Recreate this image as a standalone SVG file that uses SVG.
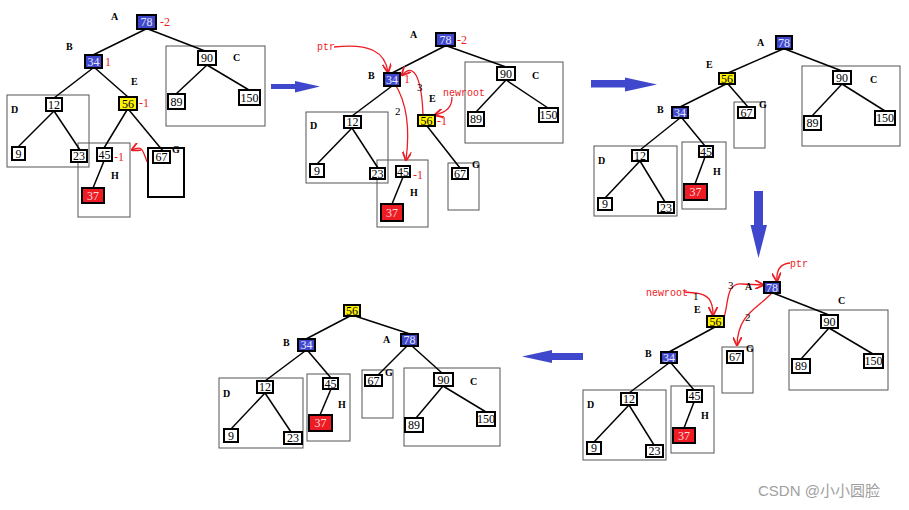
<svg xmlns="http://www.w3.org/2000/svg" width="909" height="510" viewBox="0 0 909 510">
<defs>
<style>
.n rect{fill:#fff;stroke:#000;stroke-width:2}
.n text{font-family:"Liberation Serif",serif;font-size:12px;text-anchor:middle;fill:#000}
.b rect{fill:#3F48CC}
.b text{fill:#e6e6ff}
.y rect{fill:#FFF200}
.r rect{fill:#ED1C24}
.r text{fill:#fdd}
.box{fill:none;stroke:#555;stroke-width:1}
.e line{stroke:#000;stroke-width:1.5}
.l{font-family:"Liberation Serif",serif;font-size:10px;font-weight:bold;fill:#000}
.rt{font-family:"Liberation Serif",serif;font-size:12px;fill:#ED1C24}
.rm{font-family:"Liberation Mono",monospace;font-size:10px;fill:#ED1C24}
.k{font-family:"Liberation Serif",serif;font-size:11px;fill:#000}
.ra{fill:none;stroke:#ED1C24;stroke-width:1.3;marker-end:url(#ah)}
.big{fill:#3F48CC}
</style>
<marker id="ah" viewBox="0 0 10 10" refX="9" refY="5" markerWidth="7" markerHeight="7" orient="auto-start-reverse">
<path d="M0,0 L10,5 L0,10" fill="none" stroke="#ED1C24" stroke-width="2"/>
</marker>
</defs>
<rect width="909" height="510" fill="#fff"/>

<!-- big arrows -->
<g id="arrows">
<path class="big" d="M271,84 L295,84 L295,81 L320,86.5 L295,92.5 L295,89 L271,89 Z"/>
<path class="big" d="M591,80 L625,80 L625,77.5 L657,84.5 L625,91.5 L625,87.5 L591,87.5 Z"/>
<path class="big" d="M754,191 L763,191 L763,225 L767,225 L758.5,258 L750.5,225 L754,225 Z"/>
<path class="big" d="M583,353 L552,353 L552,350 L522,356.5 L552,363 L552,360 L583,360 Z"/>
</g>

<!-- ===== Panel 1 ===== -->
<g id="p1-boxes">
<rect class="box" x="166" y="46" width="99" height="80"/>
<rect class="box" x="7" y="95" width="82" height="72"/>
<rect class="box" x="78" y="143" width="52" height="74"/>
<rect x="148" y="148" width="36" height="49" fill="none" stroke="#000" stroke-width="2"/>
</g>
<g id="p1-edges" class="e">
<line x1="146" y1="29" x2="93" y2="55"/>
<line x1="148" y1="29" x2="205" y2="51"/>
<line x1="93" y1="68" x2="54" y2="98"/>
<line x1="95" y1="68" x2="128" y2="97"/>
<line x1="54" y1="111" x2="18" y2="147"/>
<line x1="54" y1="111" x2="80" y2="150"/>
<line x1="127" y1="110" x2="104" y2="148"/>
<line x1="129" y1="110" x2="163" y2="151"/>
<line x1="104" y1="161" x2="93" y2="188"/>
<line x1="207" y1="65" x2="176" y2="94"/>
<line x1="207" y1="65" x2="249" y2="90"/>
<path class="ra" d="M147,162 C143,150 142,145 132,150"/>
</g>
<g id="p1-n78" class="n b"><rect x="137" y="15" width="19" height="14"/><text x="146.5" y="26">78</text></g>
<g id="p1-n34" class="n b"><rect x="85" y="55" width="17" height="13"/><text x="93.5" y="65.5">34</text></g>
<g id="p1-n90" class="n"><rect x="198" y="51" width="18" height="14"/><text x="207" y="62">90</text></g>
<g id="p1-n89" class="n"><rect x="168" y="94" width="17" height="15"/><text x="176.5" y="105.5">89</text></g>
<g id="p1-n150" class="n"><rect x="239" y="90" width="21" height="15"/><text x="249.5" y="101.5">150</text></g>
<g id="p1-n56" class="n y"><rect x="119" y="97" width="18" height="13"/><text x="128" y="107.5">56</text></g>
<g id="p1-n12" class="n"><rect x="46" y="98" width="16" height="13"/><text x="54" y="108.5">12</text></g>
<g id="p1-n9" class="n"><rect x="12" y="147" width="13" height="13"/><text x="18.5" y="157.5">9</text></g>
<g id="p1-n23" class="n"><rect x="71" y="150" width="16" height="12"/><text x="79" y="160">23</text></g>
<g id="p1-n45" class="n"><rect x="97" y="148" width="15" height="13"/><text x="104.5" y="158.5">45</text></g>
<g id="p1-n37" class="n r"><rect x="82" y="188" width="22" height="15"/><text x="93" y="199.5">37</text></g>
<g id="p1-n67" class="n"><rect x="153" y="151" width="17" height="12"/><text x="161.5" y="161">67</text></g>
<g id="p1-labels">
<text class="l" x="111" y="20">A</text>
<text class="l" x="66" y="50">B</text>
<text class="l" x="233" y="61">C</text>
<text class="l" x="131" y="85">E</text>
<text class="l" x="11" y="113">D</text>
<text class="l" x="111" y="179">H</text>
<text class="l" x="172" y="153">G</text>
<text class="rt" x="160" y="26">-2</text>
<text class="rt" x="105" y="66">1</text>
<text class="rt" x="139" y="107">-1</text>
<text class="rt" x="114" y="161">-1</text>
</g>

<!-- ===== Panel 2 ===== -->
<g id="p2-boxes">
<rect class="box" x="465" y="62" width="98" height="81"/>
<rect class="box" x="306" y="112" width="82" height="71"/>
<rect class="box" x="377" y="160" width="51" height="67"/>
<rect class="box" x="448" y="163" width="31" height="47"/>
</g>
<g id="p2-edges" class="e">
<line x1="445" y1="46" x2="392" y2="73"/>
<line x1="447" y1="46" x2="506" y2="67"/>
<line x1="392" y1="86" x2="352" y2="116"/>
<line x1="352" y1="128" x2="317" y2="164"/>
<line x1="352" y1="128" x2="378" y2="168"/>
<line x1="427" y1="126" x2="460" y2="168"/>
<line x1="403" y1="177" x2="392" y2="204"/>
<line x1="506" y1="80" x2="476" y2="112"/>
<line x1="506" y1="80" x2="548" y2="108"/>
<path class="ra" d="M334,47 C370,43 385,52 388,72"/>
<path class="ra" d="M423,115 C422,85 416,60 402,75"/>
<path class="ra" d="M395,84 C405,100 411,122 406,160"/>
<path class="ra" d="M452,97 C452,108 446,112 435,115"/>
</g>
<g id="p2-n78" class="n b"><rect x="436" y="33" width="19" height="13"/><text x="445.5" y="43.5">78</text></g>
<g id="p2-n34" class="n b"><rect x="384" y="73" width="16" height="13"/><text x="392" y="83.5">34</text></g>
<g id="p2-n90" class="n"><rect x="497" y="67" width="18" height="13"/><text x="506" y="77.5">90</text></g>
<g id="p2-n89" class="n"><rect x="468" y="112" width="16" height="14"/><text x="476" y="123">89</text></g>
<g id="p2-n150" class="n"><rect x="539" y="108" width="19" height="14"/><text x="548.5" y="119">150</text></g>
<g id="p2-n56" class="n y"><rect x="418" y="115" width="17" height="11"/><text x="426.5" y="124.5">56</text></g>
<g id="p2-n12" class="n"><rect x="344" y="116" width="17" height="12"/><text x="352.5" y="126">12</text></g>
<g id="p2-n9" class="n"><rect x="310" y="164" width="14" height="13"/><text x="317" y="174.5">9</text></g>
<g id="p2-n23" class="n"><rect x="370" y="168" width="15" height="11"/><text x="377.5" y="177.5">23</text></g>
<g id="p2-n45" class="n"><rect x="396" y="166" width="14" height="11"/><text x="403" y="175.5">45</text></g>
<g id="p2-n37" class="n r"><rect x="381" y="204" width="22" height="17"/><text x="392" y="216.5">37</text></g>
<g id="p2-n67" class="n"><rect x="452" y="168" width="16" height="11"/><text x="460" y="177.5">67</text></g>
<g id="p2-labels">
<text class="l" x="410" y="38">A</text>
<text class="l" x="368" y="79">B</text>
<text class="l" x="532" y="79">C</text>
<text class="l" x="429" y="102">E</text>
<text class="l" x="310" y="129">D</text>
<text class="l" x="410" y="196">H</text>
<text class="l" x="472" y="168">G</text>
<text class="rt" x="457" y="44">-2</text>
<text class="rt" x="404" y="83">1</text>
<text class="rt" x="437" y="125">-1</text>
<text class="rt" x="413" y="179">-1</text>
<text class="rm" x="443" y="96">newroot</text>
<text class="rm" x="317" y="50">ptr</text>
<text class="k" x="417" y="91">3</text>
<text class="k" x="395" y="115">2</text>
</g>

<!-- ===== Panel 3 ===== -->
<g id="p3-boxes">
<rect class="box" x="734" y="102" width="31" height="46"/>
<rect class="box" x="802" y="66" width="98" height="80"/>
<rect class="box" x="594" y="146" width="83" height="70"/>
<rect class="box" x="682" y="142" width="44" height="67"/>
</g>
<g id="p3-edges" class="e">
<line x1="783" y1="49" x2="728" y2="73"/>
<line x1="785" y1="49" x2="842" y2="71"/>
<line x1="726" y1="84" x2="680" y2="107"/>
<line x1="728" y1="84" x2="748" y2="107"/>
<line x1="680" y1="118" x2="640" y2="150"/>
<line x1="682" y1="118" x2="705" y2="146"/>
<line x1="640" y1="161" x2="605" y2="198"/>
<line x1="640" y1="161" x2="665" y2="202"/>
<line x1="705" y1="157" x2="695" y2="184"/>
<line x1="842" y1="84" x2="812" y2="116"/>
<line x1="842" y1="84" x2="885" y2="111"/>
</g>
<g id="p3-n78" class="n b"><rect x="776" y="36" width="16" height="13"/><text x="784" y="46.5">78</text></g>
<g id="p3-n56" class="n y"><rect x="719" y="73" width="16" height="11"/><text x="727" y="82.5">56</text></g>
<g id="p3-n34" class="n b"><rect x="672" y="107" width="16" height="11"/><text x="680" y="116.5">34</text></g>
<g id="p3-n67" class="n"><rect x="738" y="107" width="17" height="11"/><text x="746.5" y="116.5">67</text></g>
<g id="p3-n90" class="n"><rect x="833" y="71" width="18" height="13"/><text x="842" y="81.5">90</text></g>
<g id="p3-n89" class="n"><rect x="804" y="116" width="17" height="14"/><text x="812.5" y="127">89</text></g>
<g id="p3-n150" class="n"><rect x="875" y="111" width="20" height="14"/><text x="885" y="122">150</text></g>
<g id="p3-n12" class="n"><rect x="632" y="150" width="16" height="11"/><text x="640" y="159.5">12</text></g>
<g id="p3-n9" class="n"><rect x="598" y="198" width="14" height="12"/><text x="605" y="208">9</text></g>
<g id="p3-n23" class="n"><rect x="658" y="202" width="16" height="11"/><text x="666" y="211.5">23</text></g>
<g id="p3-n45" class="n"><rect x="699" y="146" width="14" height="11"/><text x="706" y="155.5">45</text></g>
<g id="p3-n37" class="n r"><rect x="684" y="184" width="23" height="16"/><text x="695.5" y="196">37</text></g>
<g id="p3-labels">
<text class="l" x="757" y="46">A</text>
<text class="l" x="706" y="68">E</text>
<text class="l" x="657" y="113">B</text>
<text class="l" x="759" y="108">G</text>
<text class="l" x="870" y="83">C</text>
<text class="l" x="598" y="164">D</text>
<text class="l" x="713" y="175">H</text>
</g>

<!-- ===== Panel 4 ===== -->
<g id="p4-boxes">
<rect class="box" x="722" y="347" width="31" height="46"/>
<rect class="box" x="789" y="310" width="99" height="80"/>
<rect class="box" x="583" y="390" width="83" height="70"/>
<rect class="box" x="671" y="386" width="43" height="67"/>
</g>
<g id="p4-edges" class="e">
<line x1="715" y1="327" x2="669" y2="352"/>
<line x1="773" y1="293" x2="829" y2="315"/>
<line x1="669" y1="363" x2="629" y2="393"/>
<line x1="671" y1="363" x2="694" y2="390"/>
<line x1="629" y1="405" x2="594" y2="442"/>
<line x1="629" y1="405" x2="654" y2="445"/>
<line x1="694" y1="402" x2="684" y2="428"/>
<line x1="829" y1="328" x2="801" y2="359"/>
<line x1="829" y1="328" x2="873" y2="354"/>
<path class="ra" d="M790,263 C780,264 776,270 777,281"/>
<path class="ra" d="M684,292 L695,293 C708,294 713,300 713,315"/>
<path class="ra" d="M724,318 C729,300 726,283 742,284 L763,285"/>
<path class="ra" d="M771,294 C755,310 738,315 737,345"/>
</g>
<g id="p4-n78" class="n b"><rect x="764" y="282" width="16" height="11"/><text x="772" y="291.5">78</text></g>
<g id="p4-n56" class="n y"><rect x="707" y="316" width="17" height="11"/><text x="715.5" y="325.5">56</text></g>
<g id="p4-n34" class="n b"><rect x="661" y="352" width="16" height="11"/><text x="669" y="361.5">34</text></g>
<g id="p4-n67" class="n"><rect x="727" y="351" width="16" height="12"/><text x="735" y="361">67</text></g>
<g id="p4-n90" class="n"><rect x="821" y="315" width="17" height="13"/><text x="829.5" y="325.5">90</text></g>
<g id="p4-n89" class="n"><rect x="792" y="359" width="18" height="14"/><text x="801" y="370">89</text></g>
<g id="p4-n150" class="n"><rect x="864" y="354" width="19" height="14"/><text x="873.5" y="365">150</text></g>
<g id="p4-n12" class="n"><rect x="621" y="393" width="16" height="12"/><text x="629" y="403">12</text></g>
<g id="p4-n9" class="n"><rect x="587" y="442" width="14" height="12"/><text x="594" y="452">9</text></g>
<g id="p4-n23" class="n"><rect x="646" y="445" width="17" height="12"/><text x="654.5" y="455">23</text></g>
<g id="p4-n45" class="n"><rect x="687" y="390" width="15" height="12"/><text x="694.5" y="400">45</text></g>
<g id="p4-n37" class="n r"><rect x="673" y="428" width="22" height="15"/><text x="684" y="439.5">37</text></g>
<g id="p4-labels">
<text class="l" x="745" y="290">A</text>
<text class="l" x="694" y="313">E</text>
<text class="l" x="645" y="357">B</text>
<text class="l" x="746" y="352">G</text>
<text class="l" x="838" y="304">C</text>
<text class="l" x="587" y="408">D</text>
<text class="l" x="701" y="419">H</text>
<text class="rm" x="790" y="267">ptr</text>
<text class="rm" x="646" y="296">newroot</text>
<text class="k" x="693" y="300">1</text>
<text class="k" x="728" y="289">3</text>
<text class="k" x="745" y="321">2</text>
</g>

<!-- ===== Panel 5 ===== -->
<g id="p5-boxes">
<rect class="box" x="362" y="370" width="31" height="48"/>
<rect class="box" x="404" y="368" width="96" height="78"/>
<rect class="box" x="219" y="378" width="84" height="70"/>
<rect class="box" x="307" y="374" width="43" height="67"/>
</g>
<g id="p5-edges" class="e">
<line x1="350" y1="316" x2="306" y2="339"/>
<line x1="355" y1="316" x2="410" y2="334"/>
<line x1="407" y1="346" x2="378" y2="375"/>
<line x1="412" y1="346" x2="442" y2="373"/>
<line x1="305" y1="351" x2="265" y2="381"/>
<line x1="308" y1="351" x2="331" y2="378"/>
<line x1="265" y1="393" x2="231" y2="429"/>
<line x1="265" y1="393" x2="291" y2="432"/>
<line x1="331" y1="389" x2="320" y2="415"/>
<line x1="443" y1="386" x2="416" y2="418"/>
<line x1="443" y1="386" x2="486" y2="412"/>
</g>
<g id="p5-n56" class="n y"><rect x="344" y="305" width="16" height="11"/><text x="352" y="314.5">56</text></g>
<g id="p5-n34" class="n b"><rect x="298" y="339" width="17" height="12"/><text x="306.5" y="349">34</text></g>
<g id="p5-n78" class="n b"><rect x="401" y="334" width="17" height="12"/><text x="409.5" y="344">78</text></g>
<g id="p5-n67" class="n"><rect x="365" y="375" width="17" height="11"/><text x="373.5" y="384.5">67</text></g>
<g id="p5-n90" class="n"><rect x="434" y="373" width="19" height="13"/><text x="443.5" y="383.5">90</text></g>
<g id="p5-n89" class="n"><rect x="405" y="418" width="18" height="14"/><text x="414" y="429">89</text></g>
<g id="p5-n150" class="n"><rect x="477" y="412" width="18" height="14"/><text x="486" y="423">150</text></g>
<g id="p5-n12" class="n"><rect x="257" y="381" width="16" height="12"/><text x="265" y="391">12</text></g>
<g id="p5-n9" class="n"><rect x="224" y="429" width="14" height="13"/><text x="231" y="439.5">9</text></g>
<g id="p5-n23" class="n"><rect x="284" y="432" width="18" height="12"/><text x="293" y="442">23</text></g>
<g id="p5-n45" class="n"><rect x="323" y="378" width="15" height="11"/><text x="330.5" y="387.5">45</text></g>
<g id="p5-n37" class="n r"><rect x="309" y="415" width="23" height="16"/><text x="320.5" y="427">37</text></g>
<g id="p5-labels">
<text class="l" x="283" y="346">B</text>
<text class="l" x="383" y="343">A</text>
<text class="l" x="385" y="376">G</text>
<text class="l" x="470" y="385">C</text>
<text class="l" x="223" y="397">D</text>
<text class="l" x="338" y="408">H</text>
</g>

<text x="758" y="496" font-family="Liberation Sans, Noto Sans CJK SC, sans-serif" font-size="15" fill="#a0a0a0">CSDN @小小圆脸</text>
</svg>
